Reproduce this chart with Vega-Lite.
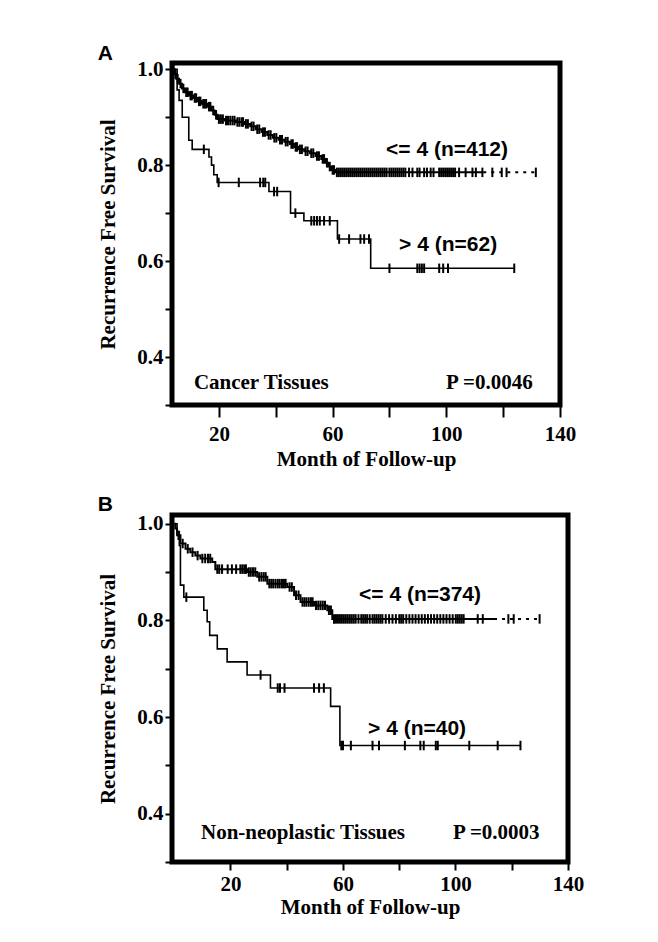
{
 "$schema": "https://vega.github.io/schema/vega-lite/v6.json",
 "background": "white",
 "padding": {"left": 95, "top": 40, "right": 5, "bottom": 5},
 "config": {
  "view": {"stroke": "black", "strokeWidth": 5},
  "axis": {"labelFont": "Liberation Serif", "labelFontWeight": "bold", "labelFontSize": 21, "labelColor": "black",
   "titleFont": "Liberation Serif", "titleFontWeight": "bold", "titleFontSize": 21, "titleColor": "black",
   "tickColor": "black", "tickWidth": 2, "grid": false, "domain": false, "labelFlush": false, "labelOverlap": false, "labelBound": false},
  "title": {"font": "Liberation Sans", "fontSize": 21, "fontWeight": "bold", "anchor": "start", "frame": "bounds", "color": "black"},
  "concat": {"spacing": 19}
 },
 "datasets": {
  "a_curve": [
   {"g":"le4","p":"main","m":3.5,"s":1.0},{"g":"le4","p":"main","m":4.5,"s":0.99},{"g":"le4","p":"main","m":5,"s":0.98},{"g":"le4","p":"main","m":6,"s":0.97},{"g":"le4","p":"main","m":7,"s":0.96},{"g":"le4","p":"main","m":8,"s":0.952},{"g":"le4","p":"main","m":9.5,"s":0.945},{"g":"le4","p":"main","m":11,"s":0.94},{"g":"le4","p":"main","m":12.5,"s":0.933},{"g":"le4","p":"main","m":14,"s":0.928},{"g":"le4","p":"main","m":16,"s":0.922},{"g":"le4","p":"main","m":17.5,"s":0.914},{"g":"le4","p":"main","m":18.5,"s":0.905},{"g":"le4","p":"main","m":19.5,"s":0.896},{"g":"le4","p":"main","m":22,"s":0.893},{"g":"le4","p":"main","m":26,"s":0.89},{"g":"le4","p":"main","m":29,"s":0.886},{"g":"le4","p":"main","m":31,"s":0.881},{"g":"le4","p":"main","m":33,"s":0.875},{"g":"le4","p":"main","m":35,"s":0.869},{"g":"le4","p":"main","m":37,"s":0.863},{"g":"le4","p":"main","m":39,"s":0.857},{"g":"le4","p":"main","m":41,"s":0.853},{"g":"le4","p":"main","m":43,"s":0.849},{"g":"le4","p":"main","m":45,"s":0.844},{"g":"le4","p":"main","m":46.5,"s":0.838},{"g":"le4","p":"main","m":48,"s":0.833},{"g":"le4","p":"main","m":50,"s":0.829},{"g":"le4","p":"main","m":52,"s":0.825},{"g":"le4","p":"main","m":54,"s":0.819},{"g":"le4","p":"main","m":56,"s":0.813},{"g":"le4","p":"main","m":57.5,"s":0.805},{"g":"le4","p":"main","m":58.5,"s":0.797},{"g":"le4","p":"main","m":59.5,"s":0.79},{"g":"le4","p":"main","m":61,"s":0.785},{"g":"le4","p":"main","m":113,"s":0.785},
   {"g":"le4","p":"tail","m":113,"s":0.785},{"g":"le4","p":"tail","m":131.5,"s":0.785},
   {"g":"gt4","p":"main","m":3.5,"s":1.0},{"g":"gt4","p":"main","m":5.3,"s":0.957},{"g":"gt4","p":"main","m":6,"s":0.935},{"g":"gt4","p":"main","m":7.1,"s":0.9},{"g":"gt4","p":"main","m":9.4,"s":0.852},{"g":"gt4","p":"main","m":10.6,"s":0.833},{"g":"gt4","p":"main","m":16.5,"s":0.817},{"g":"gt4","p":"main","m":17.4,"s":0.8},{"g":"gt4","p":"main","m":18.2,"s":0.78},{"g":"gt4","p":"main","m":19.4,"s":0.764},{"g":"gt4","p":"main","m":37.6,"s":0.745},{"g":"gt4","p":"main","m":45.2,"s":0.7},{"g":"gt4","p":"main","m":49.9,"s":0.684},{"g":"gt4","p":"main","m":61.7,"s":0.646},{"g":"gt4","p":"main","m":73.4,"s":0.585},{"g":"gt4","p":"main","m":124.2,"s":0.585}
  ],
  "a_cens": [
   {"m":4.0,"s":1.0},{"m":4.7,"s":0.99},{"m":5.5,"s":0.98},{"m":6.5,"s":0.97},{"m":7.5,"s":0.96},{"m":8.5,"s":0.952},{"m":9,"s":0.952},{"m":10,"s":0.945},{"m":10.5,"s":0.945},{"m":11.5,"s":0.94},{"m":12,"s":0.94},{"m":13,"s":0.933},{"m":13.5,"s":0.933},{"m":14.5,"s":0.928},{"m":15,"s":0.928},{"m":15.5,"s":0.928},{"m":16.5,"s":0.922},{"m":17,"s":0.922},{"m":18,"s":0.914},{"m":19,"s":0.905},{"m":20,"s":0.896},{"m":20.7,"s":0.896},{"m":21.4,"s":0.896},{"m":22.5,"s":0.893},{"m":23.2,"s":0.893},{"m":24,"s":0.893},{"m":24.8,"s":0.893},{"m":25.5,"s":0.893},{"m":26.5,"s":0.89},{"m":27.2,"s":0.89},{"m":28,"s":0.89},{"m":28.5,"s":0.89},{"m":29.5,"s":0.886},{"m":30.2,"s":0.886},{"m":31.5,"s":0.881},{"m":32.2,"s":0.881},{"m":33.5,"s":0.875},{"m":34.2,"s":0.875},{"m":35.5,"s":0.869},{"m":36.2,"s":0.869},{"m":37.5,"s":0.863},{"m":38.2,"s":0.863},{"m":39.5,"s":0.857},{"m":40.2,"s":0.857},{"m":41.5,"s":0.853},{"m":42.2,"s":0.853},{"m":43.5,"s":0.849},{"m":44.2,"s":0.849},{"m":45.5,"s":0.844},{"m":46,"s":0.844},{"m":47,"s":0.838},{"m":47.5,"s":0.838},{"m":48.5,"s":0.833},{"m":49.2,"s":0.833},{"m":50.5,"s":0.829},{"m":51.2,"s":0.829},{"m":52.5,"s":0.825},{"m":53.2,"s":0.825},{"m":54.5,"s":0.819},{"m":55.2,"s":0.819},{"m":56.5,"s":0.813},{"m":57,"s":0.813},{"m":58,"s":0.805},{"m":59,"s":0.797},{"m":60,"s":0.79},{"m":60.5,"s":0.79},
   {"m":61.5,"s":0.785},{"m":62.2,"s":0.785},{"m":62.9,"s":0.785},{"m":63.6,"s":0.785},{"m":64.3,"s":0.785},{"m":65.0,"s":0.785},{"m":65.7,"s":0.785},{"m":66.4,"s":0.785},{"m":67.1,"s":0.785},{"m":67.8,"s":0.785},{"m":68.5,"s":0.785},{"m":69.2,"s":0.785},{"m":69.9,"s":0.785},{"m":70.6,"s":0.785},{"m":71.3,"s":0.785},{"m":72.0,"s":0.785},{"m":72.7,"s":0.785},{"m":73.4,"s":0.785},{"m":74.1,"s":0.785},{"m":74.8,"s":0.785},{"m":75.5,"s":0.785},{"m":76.2,"s":0.785},{"m":76.9,"s":0.785},{"m":77.6,"s":0.785},{"m":78.3,"s":0.785},{"m":79.0,"s":0.785},{"m":80.0,"s":0.785},{"m":80.7,"s":0.785},{"m":81.4,"s":0.785},{"m":82.1,"s":0.785},{"m":82.8,"s":0.785},{"m":83.5,"s":0.785},{"m":84.2,"s":0.785},{"m":84.9,"s":0.785},{"m":85.6,"s":0.785},{"m":86.9,"s":0.785},{"m":88.1,"s":0.785},{"m":89.8,"s":0.785},{"m":90.6,"s":0.785},{"m":92.2,"s":0.785},{"m":93.2,"s":0.785},{"m":94.5,"s":0.785},{"m":95.5,"s":0.785},{"m":97.5,"s":0.785},{"m":98.2,"s":0.785},{"m":98.9,"s":0.785},{"m":99.6,"s":0.785},{"m":100.3,"s":0.785},{"m":101.0,"s":0.785},{"m":101.7,"s":0.785},{"m":102.4,"s":0.785},{"m":103.1,"s":0.785},{"m":104.5,"s":0.785},{"m":106.8,"s":0.785},{"m":109.2,"s":0.785},{"m":110.4,"s":0.785},{"m":112.7,"s":0.785},{"m":116.2,"s":0.785},{"m":119.5,"s":0.785},{"m":121.2,"s":0.785},{"m":131.5,"s":0.785},
   {"m":14.7,"s":0.833},{"m":19.9,"s":0.764},{"m":27.0,"s":0.764},{"m":34.5,"s":0.764},{"m":35.6,"s":0.764},{"m":36.3,"s":0.764},{"m":39.4,"s":0.745},{"m":40.5,"s":0.745},{"m":46.9,"s":0.7},{"m":52.5,"s":0.684},{"m":53.5,"s":0.684},{"m":54.5,"s":0.684},{"m":55.5,"s":0.684},{"m":57,"s":0.684},{"m":59,"s":0.684},{"m":62.3,"s":0.646},{"m":65.8,"s":0.646},{"m":69.8,"s":0.646},{"m":71.1,"s":0.646},{"m":72.8,"s":0.646},{"m":80.0,"s":0.585},{"m":89.8,"s":0.585},{"m":90.6,"s":0.585},{"m":91.4,"s":0.585},{"m":92.2,"s":0.585},{"m":97.5,"s":0.585},{"m":98.9,"s":0.585},{"m":100.6,"s":0.585},{"m":123.9,"s":0.585}
  ],
  "a_grp": [{"m":78.8,"s":0.832,"t":"<= 4 (n=412)"},{"m":83.4,"s":0.634,"t":"> 4 (n=62)"}],
  "a_note": [{"m":11.2,"s":0.346,"t":"Cancer Tissues"},{"m":99.9,"s":0.346,"t":"P =0.0046"}],
  "b_curve": [
   {"g":"le4","p":"main","m":0,"s":1.0},{"g":"le4","p":"main","m":0.4,"s":0.99},{"g":"le4","p":"main","m":1.0,"s":0.976},{"g":"le4","p":"main","m":2.2,"s":0.959},{"g":"le4","p":"main","m":4.0,"s":0.948},{"g":"le4","p":"main","m":5.7,"s":0.941},{"g":"le4","p":"main","m":7.5,"s":0.934},{"g":"le4","p":"main","m":9.3,"s":0.928},{"g":"le4","p":"main","m":13.5,"s":0.921},{"g":"le4","p":"main","m":14.6,"s":0.906},{"g":"le4","p":"main","m":25.9,"s":0.9},{"g":"le4","p":"main","m":29.5,"s":0.89},{"g":"le4","p":"main","m":33.1,"s":0.876},{"g":"le4","p":"main","m":40.2,"s":0.869},{"g":"le4","p":"main","m":42.6,"s":0.852},{"g":"le4","p":"main","m":44.9,"s":0.838},{"g":"le4","p":"main","m":49.7,"s":0.831},{"g":"le4","p":"main","m":54.4,"s":0.821},{"g":"le4","p":"main","m":56.2,"s":0.803},{"g":"le4","p":"main","m":113.7,"s":0.803},
   {"g":"le4","p":"tail","m":113.7,"s":0.803},{"g":"le4","p":"tail","m":129.9,"s":0.803},
   {"g":"gt4","p":"main","m":0,"s":1.0},{"g":"gt4","p":"main","m":1.0,"s":0.983},{"g":"gt4","p":"main","m":1.8,"s":0.955},{"g":"gt4","p":"main","m":2.2,"s":0.873},{"g":"gt4","p":"main","m":3.4,"s":0.848},{"g":"gt4","p":"main","m":10.5,"s":0.821},{"g":"gt4","p":"main","m":11.7,"s":0.797},{"g":"gt4","p":"main","m":12.6,"s":0.769},{"g":"gt4","p":"main","m":15.3,"s":0.741},{"g":"gt4","p":"main","m":18.8,"s":0.714},{"g":"gt4","p":"main","m":25.9,"s":0.687},{"g":"gt4","p":"main","m":34.2,"s":0.66},{"g":"gt4","p":"main","m":55.6,"s":0.622},{"g":"gt4","p":"main","m":58.9,"s":0.541},{"g":"gt4","p":"main","m":123.1,"s":0.541}
  ],
  "b_cens": [
   {"m":1.5,"s":0.976},{"m":3,"s":0.959},{"m":4.8,"s":0.948},{"m":6.5,"s":0.941},{"m":8.3,"s":0.934},{"m":10,"s":0.928},{"m":11,"s":0.928},{"m":12,"s":0.928},{"m":12.8,"s":0.928},{"m":15.3,"s":0.906},{"m":16,"s":0.906},{"m":17,"s":0.906},{"m":19,"s":0.906},{"m":20.5,"s":0.906},{"m":22,"s":0.906},{"m":23.5,"s":0.906},{"m":24.2,"s":0.906},{"m":24.9,"s":0.906},{"m":25.5,"s":0.906},{"m":26.5,"s":0.9},{"m":27.2,"s":0.9},{"m":28,"s":0.9},{"m":28.8,"s":0.9},{"m":30.2,"s":0.89},{"m":31,"s":0.89},{"m":31.8,"s":0.89},{"m":32.5,"s":0.89},{"m":33.8,"s":0.876},{"m":34.5,"s":0.876},{"m":35.2,"s":0.876},{"m":36,"s":0.876},{"m":36.8,"s":0.876},{"m":37.5,"s":0.876},{"m":38.3,"s":0.876},{"m":39,"s":0.876},{"m":39.6,"s":0.876},{"m":41,"s":0.869},{"m":41.8,"s":0.869},{"m":43.3,"s":0.852},{"m":44.2,"s":0.852},{"m":45.6,"s":0.838},{"m":46.3,"s":0.838},{"m":47,"s":0.838},{"m":47.8,"s":0.838},{"m":48.6,"s":0.838},{"m":49.2,"s":0.838},{"m":50.4,"s":0.831},{"m":51.2,"s":0.831},{"m":52,"s":0.831},{"m":52.8,"s":0.831},{"m":53.6,"s":0.831},{"m":55,"s":0.821},{"m":55.7,"s":0.821},
   {"m":56.8,"s":0.803},{"m":57.5,"s":0.803},{"m":58.2,"s":0.803},{"m":58.9,"s":0.803},{"m":59.6,"s":0.803},{"m":60.3,"s":0.803},{"m":61.0,"s":0.803},{"m":61.7,"s":0.803},{"m":62.4,"s":0.803},{"m":63.1,"s":0.803},{"m":63.8,"s":0.803},{"m":64.5,"s":0.803},{"m":65.5,"s":0.803},{"m":66.5,"s":0.803},{"m":67.2,"s":0.803},{"m":67.9,"s":0.803},{"m":68.6,"s":0.803},{"m":69.5,"s":0.803},{"m":70.5,"s":0.803},{"m":71.2,"s":0.803},{"m":71.9,"s":0.803},{"m":72.6,"s":0.803},{"m":73.3,"s":0.803},{"m":74.0,"s":0.803},{"m":75.2,"s":0.803},{"m":76.4,"s":0.803},{"m":77.6,"s":0.803},{"m":78.8,"s":0.803},{"m":80.0,"s":0.803},{"m":80.7,"s":0.803},{"m":81.4,"s":0.803},{"m":82.5,"s":0.803},{"m":83.6,"s":0.803},{"m":84.7,"s":0.803},{"m":85.8,"s":0.803},{"m":86.9,"s":0.803},{"m":88.0,"s":0.803},{"m":89.1,"s":0.803},{"m":90.2,"s":0.803},{"m":91.3,"s":0.803},{"m":92.4,"s":0.803},{"m":93.5,"s":0.803},{"m":94.6,"s":0.803},{"m":95.7,"s":0.803},{"m":96.8,"s":0.803},{"m":97.9,"s":0.803},{"m":99.0,"s":0.803},{"m":100.1,"s":0.803},{"m":100.8,"s":0.803},{"m":101.5,"s":0.803},{"m":102.2,"s":0.803},{"m":102.9,"s":0.803},{"m":107.9,"s":0.803},{"m":109.7,"s":0.803},{"m":118.8,"s":0.803},{"m":120.7,"s":0.803},{"m":129.9,"s":0.803},
   {"m":4.3,"s":0.848},{"m":30.7,"s":0.687},{"m":36.8,"s":0.66},{"m":37.6,"s":0.66},{"m":39.2,"s":0.66},{"m":49.7,"s":0.66},{"m":51.5,"s":0.66},{"m":53.2,"s":0.66},{"m":59.4,"s":0.541},{"m":60.0,"s":0.541},{"m":62.8,"s":0.541},{"m":70.5,"s":0.541},{"m":72.8,"s":0.541},{"m":82.0,"s":0.541},{"m":87.5,"s":0.541},{"m":88.7,"s":0.541},{"m":93.0,"s":0.541},{"m":93.7,"s":0.541},{"m":104.9,"s":0.541},{"m":115.0,"s":0.541},{"m":123.1,"s":0.541}
  ],
  "b_grp": [{"m":65.7,"s":0.852,"t":"<= 4 (n=374)"},{"m":68.9,"s":0.575,"t":"> 4 (n=40)"}],
  "b_note": [{"m":9.5,"s":0.36,"t":"Non-neoplastic Tissues"},{"m":99.1,"s":0.36,"t":"P =0.0003"}]
 },
 "vconcat": [
  {
   "title": {"text": "A", "offset": -6},
   "width": 388,
   "height": 342,
   "layer": [
    {
     "data": {"name": "a_curve"},
     "mark": {"type": "line", "interpolate": "step-after", "color": "black"},
     "encoding": {
      "x": {"field": "m", "type": "quantitative", "scale": {"domain": [3.5, 140], "nice": false, "zero": false},
       "axis": {"values": [20, 40, 60, 80, 100, 120, 140], "labelExpr": "datum.value % 40 == 20 ? datum.label : ''", "tickSize": 12, "labelPadding": 6, "title": "Month of Follow-up", "titlePadding": 4}},
      "y": {"field": "s", "type": "quantitative", "scale": {"domain": [0.3, 1.013], "nice": false, "zero": false},
       "axis": {"values": [0.3, 0.4, 0.5, 0.6, 0.7, 0.8, 0.9, 1.0], "labelExpr": "round(datum.value*10) % 2 == 0 ? format(datum.value, '.1f') : ''", "tickSize": 7, "labelPadding": 2, "title": "Recurrence Free Survival", "titlePadding": 18}},
      "strokeDash": {"field": "p", "type": "nominal", "scale": {"domain": ["main", "tail"], "range": [[1, 0], [3, 5]]}, "legend": null},
      "strokeWidth": {"field": "g", "type": "nominal", "scale": {"domain": ["le4", "gt4"], "range": [2, 1.6]}, "legend": null}
     }
    },
    {
     "data": {"name": "a_cens"},
     "mark": {"type": "point", "shape": "M0,-1L0,1", "filled": false, "color": "black", "strokeWidth": 2, "size": 90, "opacity": 1},
     "encoding": {"x": {"field": "m", "type": "quantitative"}, "y": {"field": "s", "type": "quantitative"}}
    },
    {
     "data": {"name": "a_grp"},
     "mark": {"type": "text", "font": "Liberation Sans", "fontWeight": "bold", "fontSize": 21, "align": "left", "baseline": "middle", "color": "black"},
     "encoding": {"x": {"field": "m", "type": "quantitative"}, "y": {"field": "s", "type": "quantitative"}, "text": {"field": "t"}}
    },
    {
     "data": {"name": "a_note"},
     "mark": {"type": "text", "font": "Liberation Serif", "fontWeight": "bold", "fontSize": 21, "align": "left", "baseline": "middle", "color": "black"},
     "encoding": {"x": {"field": "m", "type": "quantitative"}, "y": {"field": "s", "type": "quantitative"}, "text": {"field": "t"}}
    }
   ]
  },
  {
   "title": {"text": "B", "offset": -2},
   "width": 396,
   "height": 347,
   "layer": [
    {
     "data": {"name": "b_curve"},
     "mark": {"type": "line", "interpolate": "step-after", "color": "black"},
     "encoding": {
      "x": {"field": "m", "type": "quantitative", "scale": {"domain": [-0.8, 140], "nice": false, "zero": false},
       "axis": {"values": [20, 40, 60, 80, 100, 120, 140], "labelExpr": "datum.value % 40 == 20 ? datum.label : ''", "tickSize": 8, "labelPadding": 3, "title": "Month of Follow-up", "titlePadding": 2}},
      "y": {"field": "s", "type": "quantitative", "scale": {"domain": [0.3, 1.018], "nice": false, "zero": false},
       "axis": {"values": [0.3, 0.4, 0.5, 0.6, 0.7, 0.8, 0.9, 1.0], "labelExpr": "round(datum.value*10) % 2 == 0 ? format(datum.value, '.1f') : ''", "tickSize": 7, "labelPadding": 2, "title": "Recurrence Free Survival", "titlePadding": 18}},
      "strokeDash": {"field": "p", "type": "nominal", "scale": {"domain": ["main", "tail"], "range": [[1, 0], [3, 5]]}, "legend": null},
      "strokeWidth": {"field": "g", "type": "nominal", "scale": {"domain": ["le4", "gt4"], "range": [2, 1.6]}, "legend": null}
     }
    },
    {
     "data": {"name": "b_cens"},
     "mark": {"type": "point", "shape": "M0,-1L0,1", "filled": false, "color": "black", "strokeWidth": 2, "size": 90, "opacity": 1},
     "encoding": {"x": {"field": "m", "type": "quantitative"}, "y": {"field": "s", "type": "quantitative"}}
    },
    {
     "data": {"name": "b_grp"},
     "mark": {"type": "text", "font": "Liberation Sans", "fontWeight": "bold", "fontSize": 21, "align": "left", "baseline": "middle", "color": "black"},
     "encoding": {"x": {"field": "m", "type": "quantitative"}, "y": {"field": "s", "type": "quantitative"}, "text": {"field": "t"}}
    },
    {
     "data": {"name": "b_note"},
     "mark": {"type": "text", "font": "Liberation Serif", "fontWeight": "bold", "fontSize": 21, "align": "left", "baseline": "middle", "color": "black"},
     "encoding": {"x": {"field": "m", "type": "quantitative"}, "y": {"field": "s", "type": "quantitative"}, "text": {"field": "t"}}
    }
   ]
  }
 ]
}
